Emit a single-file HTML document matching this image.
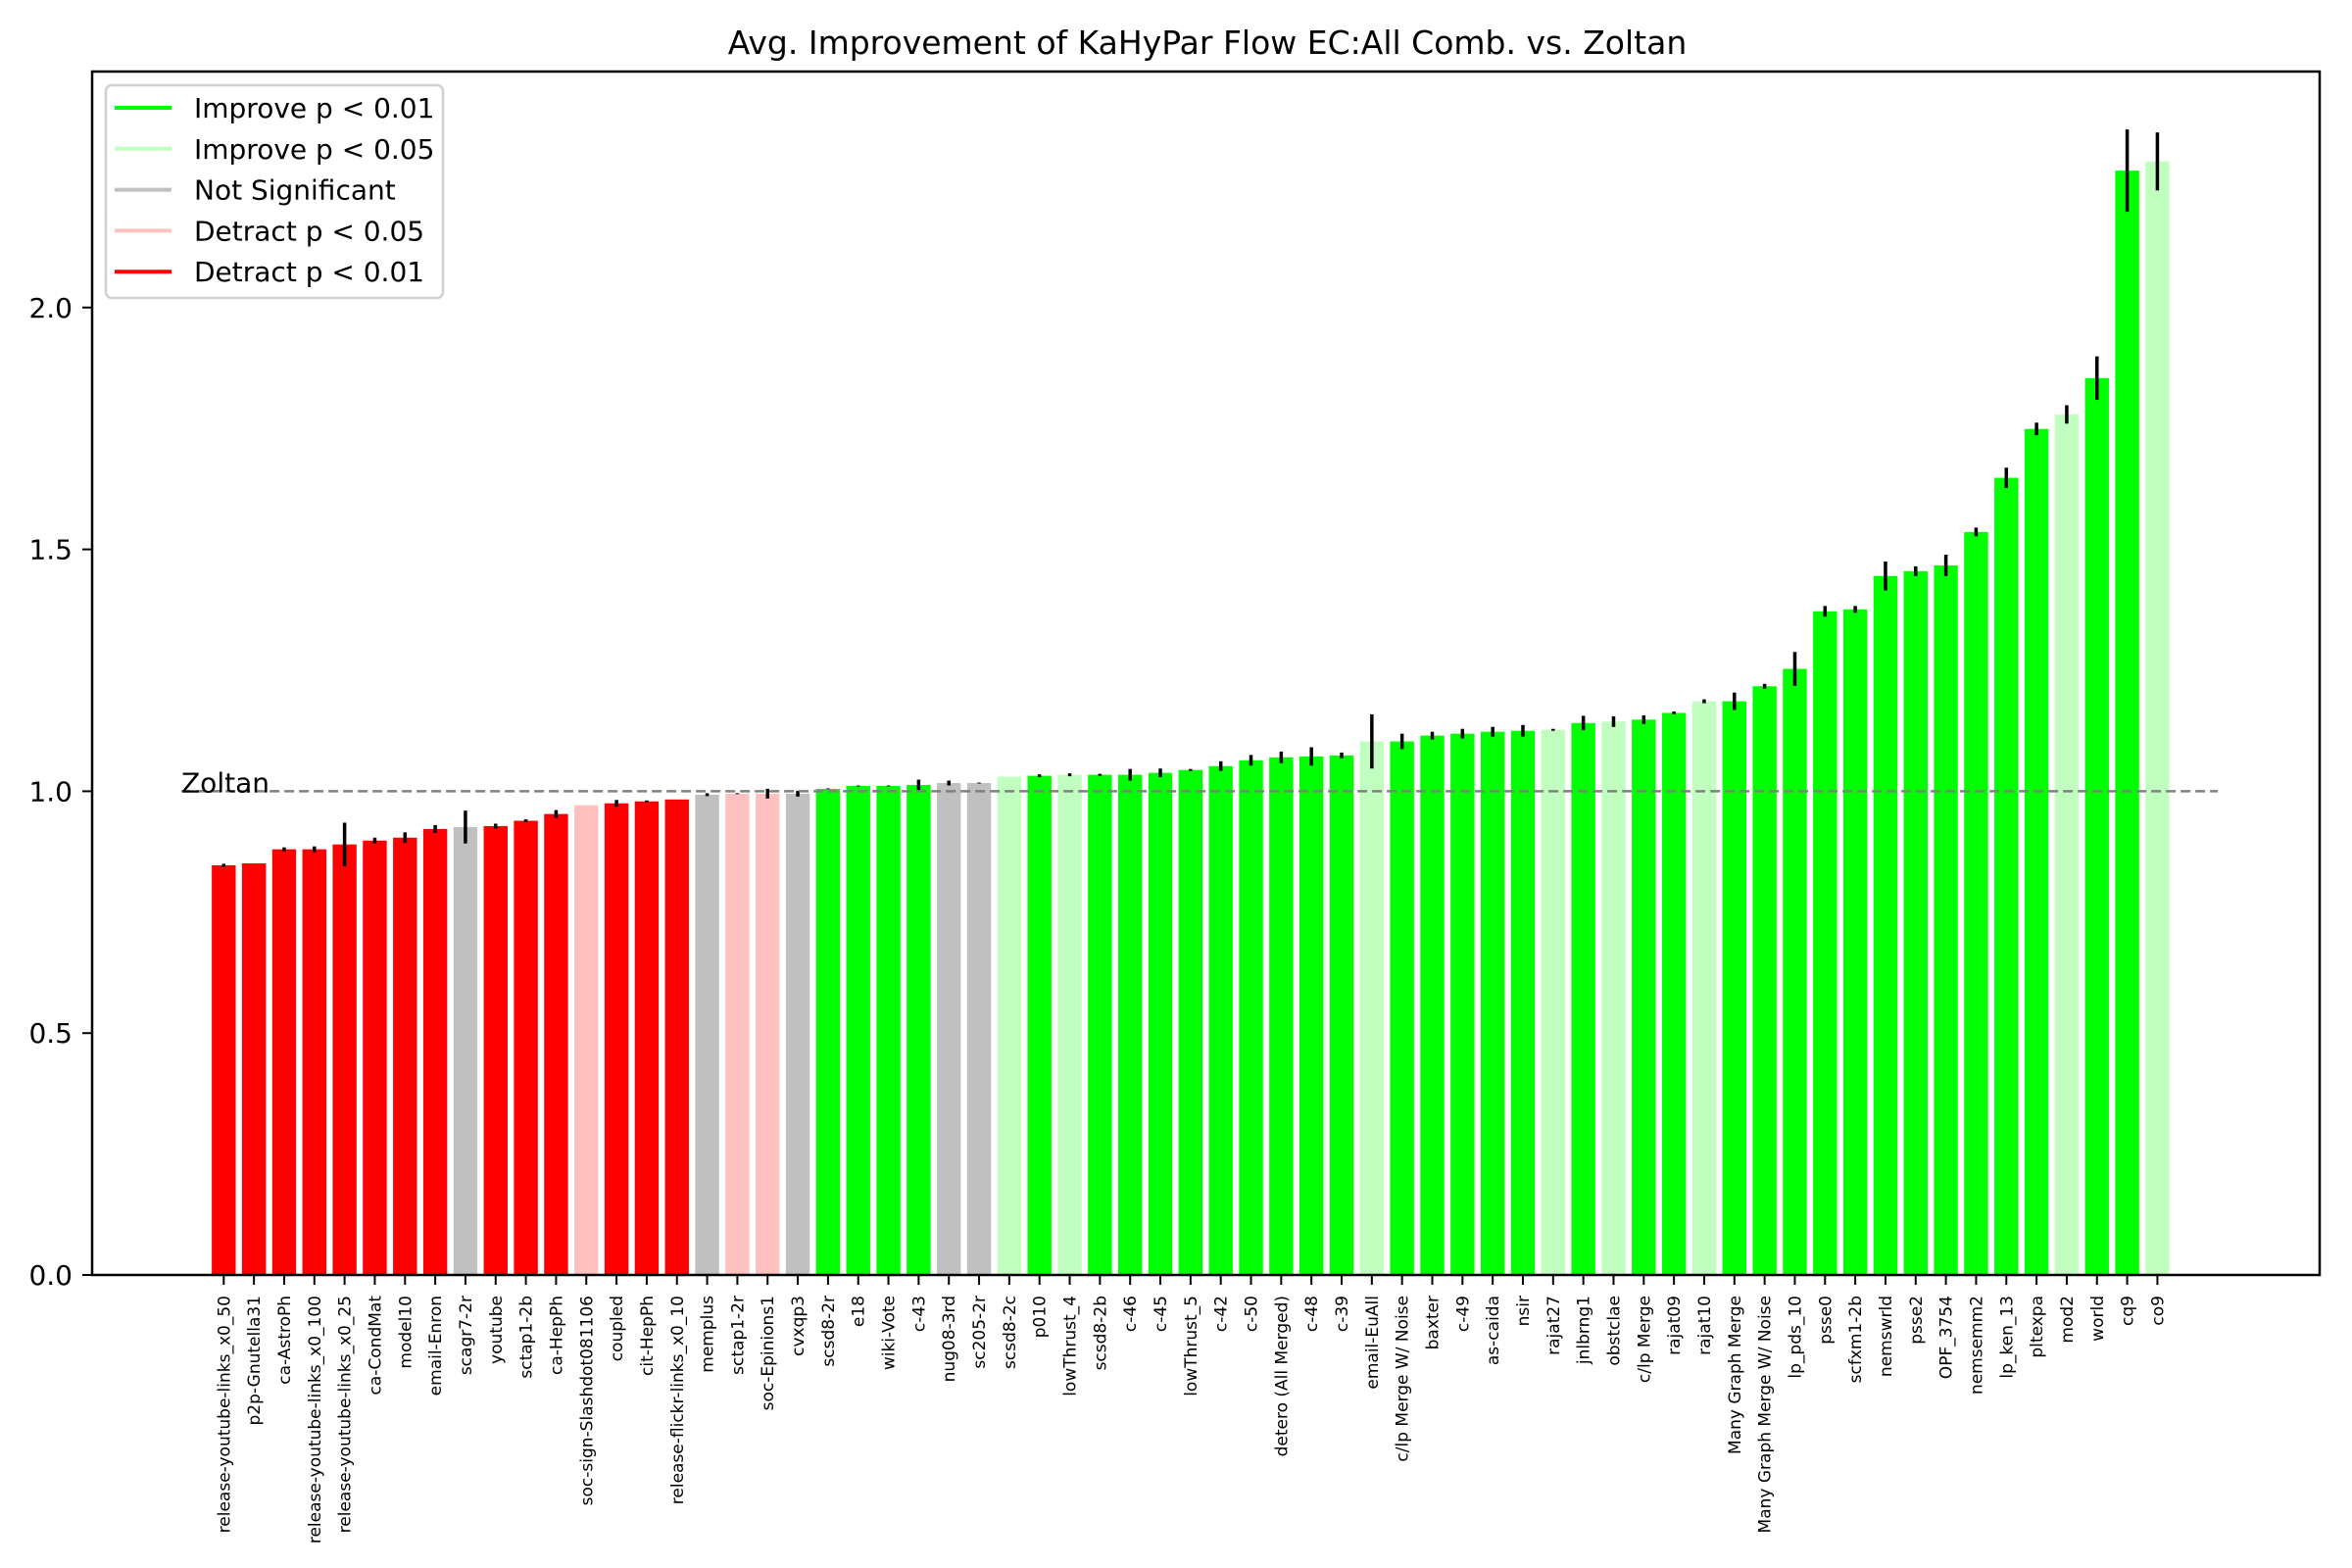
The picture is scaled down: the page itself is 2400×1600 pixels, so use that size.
<!DOCTYPE html>
<html><head><meta charset="utf-8"><style>
html,body{margin:0;padding:0;background:#fff;}
svg{display:block;font-family:"DejaVu Sans","Liberation Sans",sans-serif;}
</style></head><body>
<svg id="chart" width="2400" height="1600" viewBox="0 0 2400 1600" xmlns="http://www.w3.org/2000/svg">
<rect width="2400" height="1600" fill="#fff"/>
<text x="1232" y="55" font-size="33" text-anchor="middle">Avg. Improvement of KaHyPar Flow EC:All Comb. vs. Zoltan</text>
<g id="plot"></g>
<rect x="94" y="73" width="2273" height="1228" fill="none" stroke="#000" stroke-width="2.5"/>
<g id="legend"></g>
</svg>
<script>
const categories = ["release-youtube-links_x0_50","p2p-Gnutella31","ca-AstroPh","release-youtube-links_x0_100","release-youtube-links_x0_25","ca-CondMat","model10","email-Enron","scagr7-2r","youtube","sctap1-2b","ca-HepPh","soc-sign-Slashdot081106","coupled","cit-HepPh","release-flickr-links_x0_10","memplus","sctap1-2r","soc-Epinions1","cvxqp3","scsd8-2r","e18","wiki-Vote","c-43","nug08-3rd","sc205-2r","scsd8-2c","p010","lowThrust_4","scsd8-2b","c-46","c-45","lowThrust_5","c-42","c-50","detero (All Merged)","c-48","c-39","email-EuAll","c/lp Merge W/ Noise","baxter","c-49","as-caida","nsir","rajat27","jnlbrng1","obstclae","c/lp Merge","rajat09","rajat10","Many Graph Merge","Many Graph Merge W/ Noise","lp_pds_10","psse0","scfxm1-2b","nemswrld","psse2","OPF_3754","nemsemm2","lp_ken_13","pltexpa","mod2","world","cq9","co9"];
const values = [0.847,0.851,0.880,0.880,0.890,0.898,0.904,0.922,0.926,0.928,0.939,0.953,0.971,0.975,0.979,0.983,0.993,0.995,0.995,0.995,1.005,1.011,1.011,1.013,1.017,1.017,1.030,1.032,1.034,1.034,1.034,1.038,1.044,1.052,1.064,1.070,1.072,1.074,1.103,1.103,1.115,1.119,1.123,1.125,1.127,1.141,1.144,1.148,1.162,1.186,1.186,1.217,1.253,1.372,1.376,1.445,1.455,1.467,1.536,1.648,1.749,1.779,1.854,2.283,2.302];
const errors = [0.003,0,0.004,0.006,0.045,0.006,0.011,0.008,0.034,0.005,0.003,0.008,0,0.007,0.002,0,0.003,0.001,0.010,0.006,0.001,0.001,0.001,0.011,0.005,0.001,0,0.003,0.003,0.002,0.012,0.009,0.002,0.010,0.011,0.012,0.019,0.006,0.056,0.016,0.008,0.010,0.010,0.012,0.002,0.015,0.011,0.009,0.003,0.004,0.018,0.005,0.035,0.011,0.007,0.030,0.010,0.022,0.009,0.021,0.013,0.019,0.045,0.085,0.060];
// significance class: 2 improve p<0.01, 1 improve p<0.05, 0 not significant, -1 detract p<0.05, -2 detract p<0.01
const significance = [-2,-2,-2,-2,-2,-2,-2,-2,0,-2,-2,-2,-1,-2,-2,-2,0,-1,-1,0,2,2,2,2,0,0,1,2,1,2,2,2,2,2,2,2,2,2,1,2,2,2,2,2,1,2,1,2,2,1,2,2,2,2,2,2,2,2,2,2,2,1,2,2,1];
const yTicks = [0.0,0.5,1.0,1.5,2.0];
const yTickLabels = ["0.0","0.5","1.0","1.5","2.0"];
const legendLabels = ["Improve p < 0.01","Improve p < 0.05","Not Significant","Detract p < 0.05","Detract p < 0.01"];
const legendClasses = [2,1,0,-1,-2];
const baseline = 1.0;

const NS = "http://www.w3.org/2000/svg";
const colorOf = {"2":"#00ff00","1":"#c0ffc0","0":"#c0c0c0","-1":"#ffc0c0","-2":"#ff0000"};
const X0 = 228.3, STEP = 30.83, BARW = 24.4;
const Y0 = 1301, UNIT = 493.6;
function xScale(i){ return X0 + STEP*i; }
function yScale(v){ return Y0 - UNIT*v; }
function mk(tag, attrs){ const e=document.createElementNS(NS,tag); for(const k in attrs) e.setAttribute(k,attrs[k]); return e; }
const plot = document.getElementById('plot');

categories.forEach((c,i)=>{
  const x = xScale(i), v = values[i];
  const r = mk('rect',{x:x-BARW/2,y:yScale(v),width:BARW,height:yScale(0)-yScale(v),fill:colorOf[significance[i]]});
  
  
  plot.appendChild(r);
  if(errors[i] > 0){
    const e = mk('line',{x1:x,x2:x,y1:yScale(v-errors[i]),y2:yScale(v+errors[i]),stroke:'#000','stroke-width':3.5});
    
    
    plot.appendChild(e);
  }
  const t = mk('line',{x1:x,x2:x,y1:Y0,y2:Y0+10,stroke:'#000','stroke-width':2});
  
  
  plot.appendChild(t);
  const lbl = mk('text',{x:0,y:0,'font-size':17,'text-anchor':'end',transform:`translate(${x+6},1322) rotate(-90)`});
  lbl.textContent = c;
  
  
  plot.appendChild(lbl);
});

yTicks.forEach((v,i)=>{
  const y = yScale(v);
  const t = mk('line',{x1:84,x2:94,y1:y,y2:y,stroke:'#000','stroke-width':2});
  
  
  plot.appendChild(t);
  const l = mk('text',{x:74,y:y+10,'font-size':28,'text-anchor':'end'});
  l.textContent = yTickLabels[i];
  
  
  plot.appendChild(l);
});

const zl = mk('line',{x1:xScale(-1.4),x2:xScale(66.0),y1:yScale(baseline),y2:yScale(baseline),stroke:'#808080','stroke-width':2.5,'stroke-dasharray':'10,5'});


plot.appendChild(zl);
const zt = mk('text',{x:185,y:yScale(baseline)+1,'font-size':28});
zt.textContent = 'Zoltan';


plot.appendChild(zt);

const lg = document.getElementById('legend');
const box = mk('rect',{x:108,y:87,width:344,height:217,rx:6,fill:'#fff','fill-opacity':0.8,stroke:'#d0d0d0','stroke-width':2.5});


lg.appendChild(box);
legendLabels.forEach((s,i)=>{
  const y = 110 + i*41.8;
  const ln = mk('line',{x1:117,x2:175,y1:y,y2:y,stroke:colorOf[legendClasses[i]],'stroke-width':4});
  
  
  lg.appendChild(ln);
  const tx = mk('text',{x:198,y:y+10,'font-size':28});
  tx.textContent = s;
  
  
  lg.appendChild(tx);
});
</script>
</body></html>
